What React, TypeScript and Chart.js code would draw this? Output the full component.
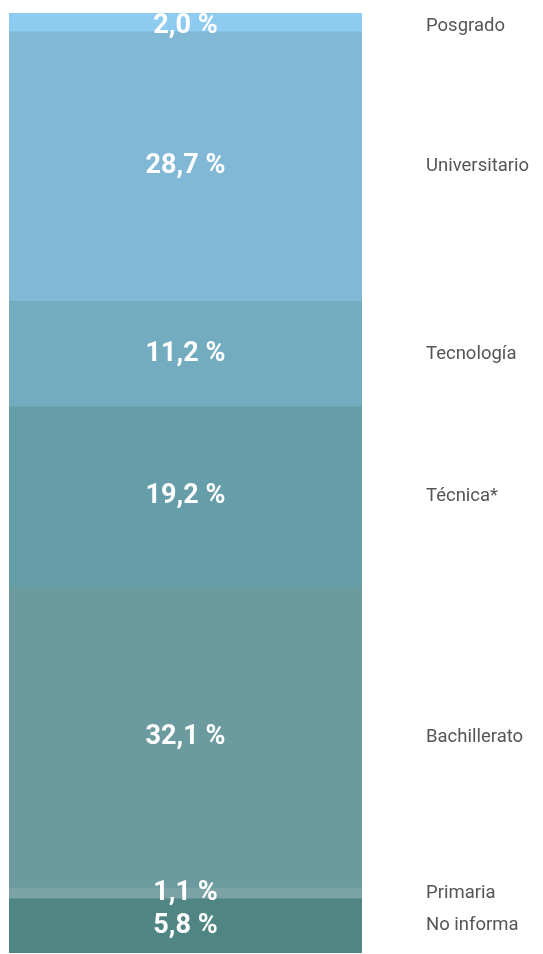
import React, { useEffect, useRef } from "react";
import { Chart, registerables } from "chart.js";

Chart.register(...registerables);

// Bottom to top
const categories = ["No informa", "Primaria", "Bachillerato", "Técnica*", "Tecnología", "Universitario", "Posgrado"];
const values = [5.8, 1.1, 32.1, 19.2, 11.2, 28.7, 2.0];
const colors = ["#4F8683", "#7BA2A5", "#6B9B9E", "#659EA8", "#72ACBE", "#80B8D6", "#8DCBF0"];

const fmt = (v: number) => v.toFixed(1).replace(".", ",") + " %";

const labelPlugin = {
  id: "segLabels",
  afterDatasetsDraw(chart: any) {
    const ctx = chart.ctx;
    const area = chart.chartArea;
    ctx.save();
    chart.data.datasets.forEach((ds: any, i: number) => {
      const meta = chart.getDatasetMeta(i);
      const el = meta.data[0];
      if (!el) return;
      let cy = (el.y + el.base) / 2;
      cy = Math.max(cy, area.top + 13);
      ctx.textBaseline = "middle";
      ctx.textAlign = "center";
      ctx.fillStyle = "#ffffff";
      ctx.font = "bold 27px Roboto, 'DejaVu Sans', sans-serif";
      ctx.fillText(fmt(values[i]), el.x, cy);
      ctx.textAlign = "left";
      ctx.fillStyle = "#555555";
      ctx.font = "18.5px Roboto, 'DejaVu Sans', sans-serif";
      ctx.fillText(categories[i], area.right + 64, cy);
    });
    ctx.restore();
  },
};

export default function App() {
  const ref = useRef<HTMLCanvasElement>(null);
  useEffect(() => {
    if (!ref.current) return;
    const total = values.reduce((a, b) => a + b, 0);
    const chart = new Chart(ref.current, {
      type: "bar",
      data: {
        labels: [""],
        datasets: categories.map((c, i) => ({
          label: c,
          data: [values[i]],
          backgroundColor: colors[i],
          borderWidth: 0,
          categoryPercentage: 1,
          barPercentage: 1,
        })),
      },
      options: {
        animation: false,
        responsive: true,
        maintainAspectRatio: false,
        layout: { padding: { left: 1, right: 173, top: 5, bottom: 1 } },
        scales: {
          x: { stacked: true, display: false },
          y: { stacked: true, display: false, min: 0, max: total },
        },
        plugins: { legend: { display: false }, tooltip: { enabled: false } },
      },
      plugins: [labelPlugin],
    });
    return () => chart.destroy();
  }, []);
  return (
    <div style={{ position: "relative", width: "527px", height: "946px" }}>
      <canvas ref={ref} />
    </div>
  );
}
